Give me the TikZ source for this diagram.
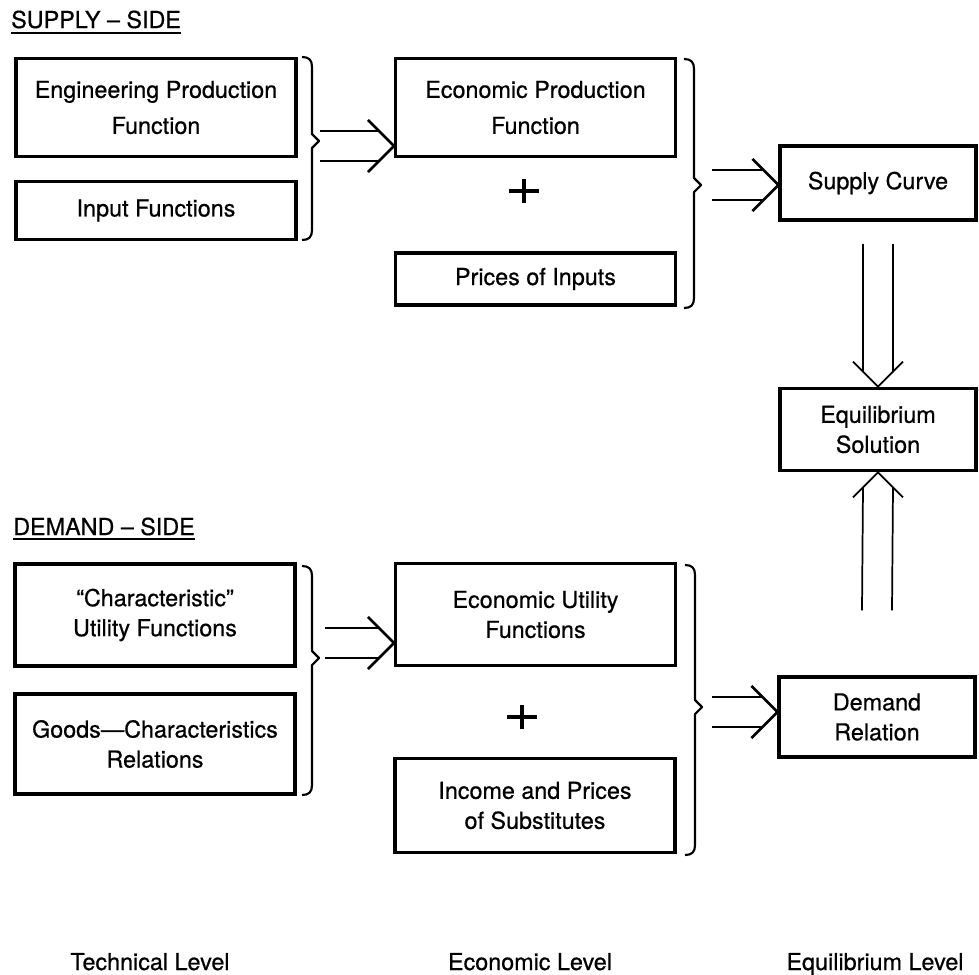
\documentclass[tikz,border=0pt]{standalone}
\usepackage{fontspec}
\setmainfont{TeX Gyre Heros}[FakeBold=0.6]
\usepackage{tikz}
\usetikzlibrary{arrows,calc}

\tikzset{
  box/.style={draw, line width=2.4pt, align=center, inner sep=0pt, minimum width=210pt, font=\fontsize{17.5}{22.5}\selectfont},
  smallbox/.style={box, minimum width=147pt},
  widespread/.style={font=\fontsize{17.5}{27}\selectfont},
  heading/.style={anchor=base west, inner sep=0pt, font=\fontsize{17.5}{22}\selectfont},
  levellabel/.style={anchor=base, inner sep=0pt, font=\fontsize{17.5}{22}\selectfont},
  conn/.style={line width=2pt},
  thinconn/.style={line width=1.3pt},
  bracket/.style={line width=1.6pt, line join=round},
}

% double arrow to the right, free end #1, tip #2
\newcommand{\rightdouble}[2]{%
  \draw[conn] ($(#1)+(0,-15)$) -- ($(#2)+(-15,-15)$) ($(#1)+(0,15)$) -- ($(#2)+(-15,15)$);
  \draw[conn] ($(#2)+(-26,-26)$) -- (#2) -- ($(#2)+(-26,26)$);}
% vertical double arrow, #3 = 1 down, -1 up
\newcommand{\vertdouble}[3]{%
  \draw[thinconn] ($(#1)+(-15,0)$) -- ($(#2)+(-15,{-15*(#3)})$) ($(#1)+(15,0)$) -- ($(#2)+(15,{-15*(#3)})$);
  \draw[thinconn] ($(#2)+(-25,{-25*(#3)})$) -- (#2) -- ($(#2)+(25,{-25*(#3)})$);}
% brace: x, top, tip, bottom
\newcommand{\sidebrace}[4]{%
  \draw[bracket] (#1-10,#2) .. controls (#1-3,#2) and (#1,#2+3) .. (#1,#2+10)
    -- (#1,#3-7) -- (#1+7,#3) -- (#1,#3+7) -- (#1,#4-10)
    .. controls (#1,#4-3) and (#1-3,#4) .. (#1-10,#4);}
\newcommand{\plussign}[2]{%
  \draw[line width=3pt] (#1-15,#2) -- (#1+15,#2) (#1,#2-12) -- (#1,#2+12);}

\begin{document}
\begin{tikzpicture}[x=0.75pt,y=0.75pt,yscale=-1]
  \useasboundingbox (0,0) rectangle (979,975);

  %headings
  \node[heading] (supply) at (11,28) {SUPPLY – SIDE};
  \draw[line width=1.3pt] ($(supply.base west)+(0,5)$) -- ($(supply.base east)+(0,5)$);
  \node[heading] (demandside) at (13,535) {DEMAND – SIDE};
  \draw[line width=1.3pt] ($(demandside.base west)+(0,4)$) -- ($(demandside.base east)+(0,4)$);

  %supply side
  \node[box, widespread, minimum height=74pt] (engprod) at (156,107.5) {Engineering Production\\Function};
  \node[box, minimum height=44pt] (inputfn) at (156,210.5) {Input Functions};
  \node[box, widespread, minimum height=74pt] (ecoprod) at (535.5,107.5) {Economic Production\\Function};
  \node[box, minimum height=39pt] (prices) at (535.5,279) {Prices of Inputs};
  \node[smallbox, minimum height=55.5pt] (supplycurve) at (878,183) {Supply Curve};
  \plussign{524}{191}

  %equilibrium
  \node[smallbox, minimum height=62pt] (equil) at (878,429.5) {Equilibrium\\Solution};

  %demand side
  \node[box, minimum height=76.5pt] (charutil) at (155,615) {“Characteristic”\\Utility Functions};
  \node[box, minimum height=75pt] (goodschar) at (155,744) {Goods—Characteristics\\Relations};
  \node[box, minimum height=76pt] (ecoutil) at (535.5,614.5) {Economic Utility\\Functions};
  \node[box, minimum height=71pt] (income) at (535,805.5) {Income and Prices\\of Substitutes};
  \node[smallbox, minimum height=60pt] (demand) at (877,717) {Demand\\Relation};
  \plussign{522}{717}

  %braces
  \sidebrace{312}{57}{141}{240}
  \sidebrace{694}{59}{185}{308}
  \sidebrace{312}{566}{658}{795}
  \sidebrace{695}{565}{707}{855}

  %arrows
  \coordinate (a1) at (320,146);
  \coordinate (t1) at (ecoprod.west |- a1);
  \rightdouble{a1}{t1}
  \coordinate (a2) at (712,185);
  \coordinate (t2) at (supplycurve.west |- a2);
  \rightdouble{a2}{t2}
  \coordinate (a3) at (325,643);
  \coordinate (t3) at (ecoutil.west |- a3);
  \rightdouble{a3}{t3}
  \coordinate (a4) at (712,712);
  \coordinate (t4) at (demand.west |- a4);
  \rightdouble{a4}{t4}
  \coordinate (a5) at ($(supplycurve.south)+(0,22)$);
  \vertdouble{a5}{equil.north}{1}
  \coordinate (a6) at ($(demand.north)+(0,-65)$);
  \vertdouble{a6}{equil.south}{-1}

  %levels
  \node[levellabel] (techlvl) at (150,970) {Technical Level};
  \node[levellabel] (ecolvl) at (530,970) {Economic Level};
  \node[levellabel] (equilvl) at (875,970) {Equilibrium Level};
\end{tikzpicture}
\end{document}
